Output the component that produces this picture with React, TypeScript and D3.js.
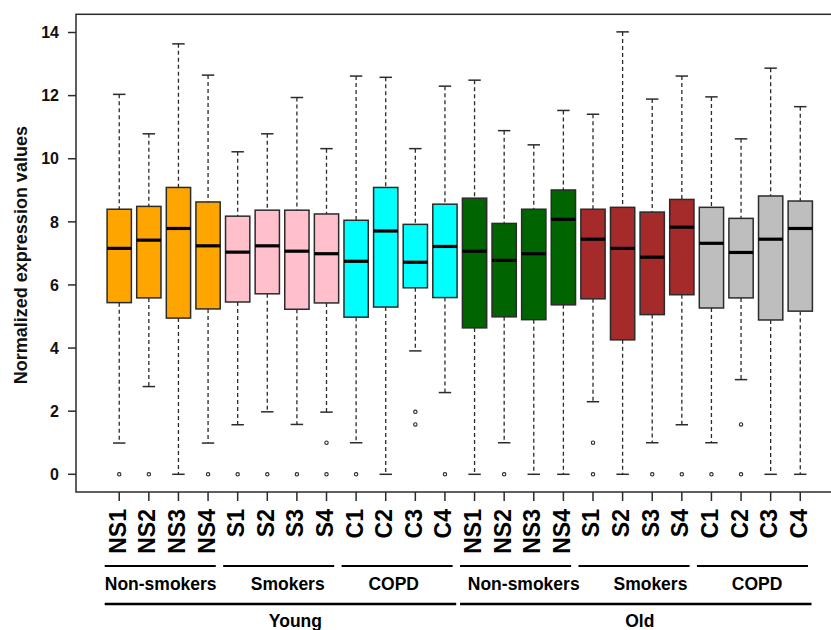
import React from "react";
import * as d3 from "d3";

// Sample labels (same four per condition, repeated for Young and Old)
const labels = [
  "NS1", "NS2", "NS3", "NS4", "S1", "S2", "S3", "S4", "C1", "C2", "C3", "C4",
  "NS1", "NS2", "NS3", "NS4", "S1", "S2", "S3", "S4", "C1", "C2", "C3", "C4",
];
const fills = [
  "#FFA500", "#FFA500", "#FFA500", "#FFA500",
  "#FFC0CB", "#FFC0CB", "#FFC0CB", "#FFC0CB",
  "#00FFFF", "#00FFFF", "#00FFFF", "#00FFFF",
  "#006400", "#006400", "#006400", "#006400",
  "#A52A2A", "#A52A2A", "#A52A2A", "#A52A2A",
  "#BEBEBE", "#BEBEBE", "#BEBEBE", "#BEBEBE",
];

// Five-number summaries per sample
const upperWhisker = [12.04, 10.79, 13.64, 12.65, 10.22, 10.79, 11.94, 10.32, 12.62, 12.58, 10.32, 12.3,
  12.49, 10.89, 10.44, 11.53, 11.41, 14.02, 11.89, 12.62, 11.96, 10.63, 12.87, 11.65];
const q3 = [8.4, 8.49, 9.09, 8.63, 8.18, 8.37, 8.37, 8.25, 8.05, 9.09, 7.92, 8.56,
  8.75, 7.95, 8.4, 9.01, 8.4, 8.46, 8.31, 8.71, 8.46, 8.11, 8.82, 8.66];
const median = [7.16, 7.42, 7.79, 7.24, 7.04, 7.24, 7.07, 6.99, 6.75, 7.71, 6.72, 7.22,
  7.07, 6.78, 6.99, 8.08, 7.45, 7.16, 6.88, 7.83, 7.32, 7.03, 7.45, 7.79];
const q1 = [5.44, 5.59, 4.95, 5.24, 5.46, 5.72, 5.23, 5.43, 4.98, 5.3, 5.91, 5.6,
  4.64, 4.99, 4.9, 5.37, 5.56, 4.26, 5.06, 5.69, 5.27, 5.59, 4.89, 5.17];
const lowerWhisker = [0.99, 2.78, 0, 0.99, 1.57, 1.98, 1.58, 1.97, 1.0, 0, 3.91, 2.59,
  0, 1.0, 0, 0, 2.3, 0, 1.0, 1.57, 1.0, 3.0, 0, 0];
const outliers: number[][] = [
  [0], [0], [], [0], [0], [0], [0], [1.0, 0], [0], [], [1.98, 1.58], [0],
  [], [0], [], [], [1.0, 0], [], [0], [0], [0], [1.58, 0], [], [],
];

const yTicks = [0, 2, 4, 6, 8, 10, 12, 14];

// Condition groups: first/last sample position and label position
const condNames = ["Non-smokers", "Smokers", "COPD", "Non-smokers", "Smokers", "COPD"];
const condFirst = [1, 5, 9, 13, 17, 21];
const condLast = [4, 8, 12, 16, 20, 24];
const condLabelAt = [2.4, 6.69, 10.27, 14.66, 18.94, 22.54];

// Age groups
const ageNames = ["Young", "Old"];
const ageFirst = [1, 13];
const ageLast = [12, 24];
const ageLabelAt = [6.95, 18.58];

const FONT = "'Liberation Sans', Arial, sans-serif";

export default function App() {
  const width = 831;
  const height = 630;
  const x = d3.scaleLinear().domain([-0.46, 25.46]).range([76, 843.5]);
  const y = d3.scaleLinear().domain([-0.561, 14.577]).range([492, 14.3]);
  const unit = x(1) - x(0);
  const halfBox = 0.41 * unit;
  const halfCap = 0.21 * unit;
  const stroke = "#2b2b2b";

  return (
    <svg
      width={width}
      height={height}
      style={{ position: "absolute", left: 0, top: 0, background: "#fff" }}
      fontFamily={FONT}
      fontWeight="bold"
    >
      {/* plot frame */}
      <rect x={x(-0.46)} y={y(14.577)} width={x(25.46) - x(-0.46)} height={y(-0.561) - y(14.577)}
        fill="none" stroke={stroke} strokeWidth={1.5} />

      {/* y axis */}
      {yTicks.map((t) => (
        <g key={t}>
          <line x1={68} x2={76} y1={y(t)} y2={y(t)} stroke={stroke} strokeWidth={1.5} />
          <text x={59} y={y(t)} dy="0.36em" textAnchor="end" fontSize={16} fill="#111">{t}</text>
        </g>
      ))}
      <text transform={`translate(26.5,${(y(14.577) + y(-0.561)) / 2 + 2}) rotate(-90)`}
        textAnchor="middle" fontSize={18} fill="#111">Normalized expression values</text>

      {/* boxes */}
      {labels.map((lab, i) => {
        const cx = x(i + 1);
        return (
          <g key={i}>
            <line x1={cx} x2={cx} y1={y(upperWhisker[i])} y2={y(q3[i])} stroke={stroke}
              strokeWidth={1.3} strokeDasharray="4,3" />
            <line x1={cx} x2={cx} y1={y(q1[i])} y2={y(lowerWhisker[i])} stroke={stroke}
              strokeWidth={1.3} strokeDasharray="4,3" />
            <line x1={cx - halfCap} x2={cx + halfCap} y1={y(upperWhisker[i])} y2={y(upperWhisker[i])}
              stroke={stroke} strokeWidth={1.5} />
            <line x1={cx - halfCap} x2={cx + halfCap} y1={y(lowerWhisker[i])} y2={y(lowerWhisker[i])}
              stroke={stroke} strokeWidth={1.5} />
            <rect x={cx - halfBox} y={y(q3[i])} width={2 * halfBox} height={y(q1[i]) - y(q3[i])}
              fill={fills[i]} stroke={stroke} strokeWidth={1.5} />
            <line x1={cx - halfBox} x2={cx + halfBox} y1={y(median[i])} y2={y(median[i])}
              stroke="#000" strokeWidth={3.2} />
            {outliers[i].map((o, k) => (
              <circle key={k} cx={cx} cy={y(o)} r={1.7} fill="none" stroke={stroke} strokeWidth={1.1} />
            ))}
            {/* x tick and label */}
            <line x1={cx} x2={cx} y1={492} y2={501} stroke={stroke} strokeWidth={1.5} />
            <text transform={`translate(${cx + 6.5},509) rotate(-90)`} textAnchor="end"
              fontSize={23} fill="#000">{lab}</text>
          </g>
        );
      })}

      {/* condition groups */}
      {condNames.map((name, g) => (
        <g key={g}>
          <line x1={x(condFirst[g] - 0.49)} x2={x(condLast[g] + 0.26)} y1={566} y2={566}
            stroke="#000" strokeWidth={2.2} />
          <text x={x(condLabelAt[g])} y={590} textAnchor="middle" fontSize={17.5} fill="#000">{name}</text>
        </g>
      ))}

      {/* age groups */}
      {ageNames.map((name, g) => (
        <g key={g}>
          <line x1={x(ageFirst[g] - 0.49)} x2={x(ageLast[g] + 0.38)} y1={604} y2={604}
            stroke="#000" strokeWidth={2.6} />
          <text x={x(ageLabelAt[g])} y={627} textAnchor="middle" fontSize={17.5} fill="#000">{name}</text>
        </g>
      ))}
    </svg>
  );
}
